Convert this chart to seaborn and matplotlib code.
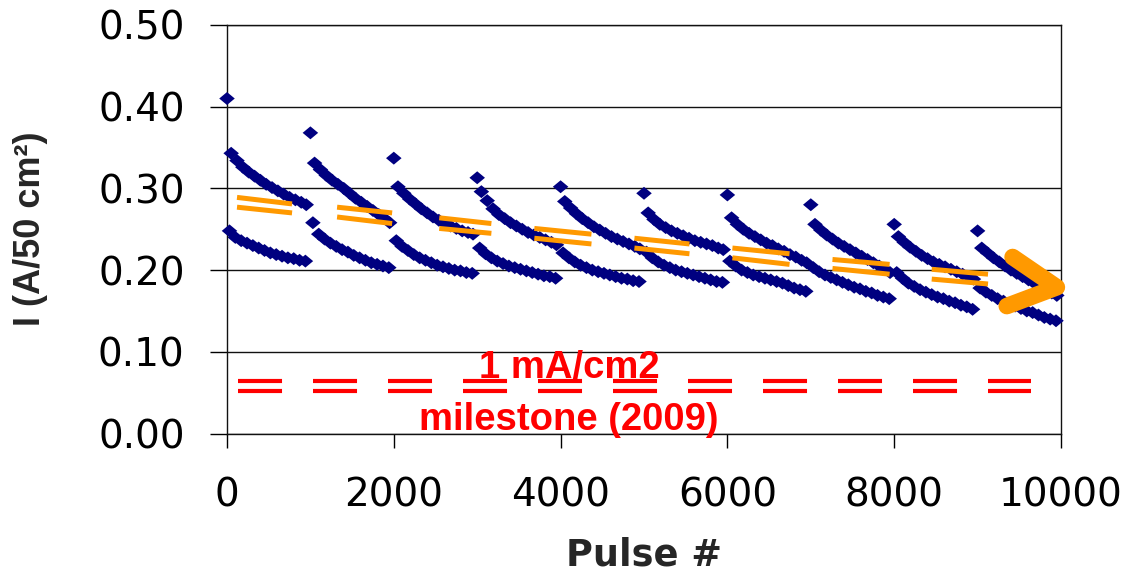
import numpy as np
import pandas as pd
import matplotlib
matplotlib.use("Agg")
import matplotlib.pyplot as plt
from matplotlib.markers import MarkerStyle
from matplotlib.path import Path
import seaborn as sns

# ---------------- data ----------------
segment_starts = [0, 1000, 2000, 3000, 4000, 5000, 6000, 7000, 8000, 9000]
segment_first_current = [0.410, 0.368, 0.337, 0.313, 0.302, 0.294, 0.292, 0.280, 0.256, 0.248]

upper_offsets = [50, 120, 190, 260, 330, 400, 470, 540, 610, 680, 750, 820, 890, 950]
lower_offsets = [30, 100, 170, 240, 310, 380, 450, 520, 590, 660, 730, 800, 870, 940]

upper_current = [
    [0.343, 0.334, 0.326, 0.320, 0.315, 0.310, 0.305, 0.301, 0.297, 0.293, 0.289, 0.286, 0.283, 0.280],
    [0.331, 0.323, 0.316, 0.310, 0.305, 0.300, 0.294, 0.288, 0.283, 0.278, 0.273, 0.268, 0.263, 0.258],
    [0.302, 0.294, 0.287, 0.281, 0.275, 0.270, 0.265, 0.261, 0.257, 0.254, 0.251, 0.248, 0.246, 0.244],
    [0.296, 0.285, 0.275, 0.268, 0.263, 0.258, 0.254, 0.250, 0.246, 0.243, 0.240, 0.237, 0.234, 0.231],
    [0.284, 0.276, 0.269, 0.263, 0.258, 0.253, 0.249, 0.245, 0.241, 0.238, 0.235, 0.232, 0.229, 0.226],
    [0.270, 0.262, 0.256, 0.252, 0.248, 0.245, 0.242, 0.239, 0.236, 0.234, 0.232, 0.230, 0.227, 0.225],
    [0.264, 0.256, 0.250, 0.245, 0.241, 0.237, 0.233, 0.230, 0.226, 0.223, 0.219, 0.216, 0.212, 0.209],
    [0.256, 0.249, 0.243, 0.238, 0.233, 0.229, 0.225, 0.221, 0.217, 0.213, 0.209, 0.205, 0.201, 0.197],
    [0.241, 0.234, 0.228, 0.223, 0.218, 0.214, 0.210, 0.207, 0.204, 0.201, 0.198, 0.195, 0.192, 0.189],
    [0.227, 0.221, 0.215, 0.210, 0.205, 0.200, 0.196, 0.192, 0.188, 0.184, 0.180, 0.176, 0.172, 0.169],
]
lower_current = [
    [0.248, 0.240, 0.236, 0.233, 0.230, 0.227, 0.224, 0.221, 0.219, 0.217, 0.215, 0.214, 0.212, 0.211],
    [0.258, 0.244, 0.238, 0.233, 0.229, 0.225, 0.222, 0.218, 0.215, 0.212, 0.209, 0.207, 0.205, 0.203],
    [0.236, 0.229, 0.224, 0.219, 0.215, 0.212, 0.209, 0.206, 0.204, 0.202, 0.200, 0.199, 0.197, 0.196],
    [0.227, 0.220, 0.215, 0.211, 0.208, 0.205, 0.203, 0.201, 0.199, 0.197, 0.195, 0.193, 0.192, 0.190],
    [0.221, 0.215, 0.210, 0.206, 0.203, 0.200, 0.198, 0.196, 0.194, 0.192, 0.190, 0.189, 0.187, 0.186],
    [0.222, 0.215, 0.210, 0.206, 0.203, 0.200, 0.198, 0.196, 0.194, 0.192, 0.190, 0.188, 0.186, 0.185],
    [0.211, 0.205, 0.200, 0.197, 0.194, 0.192, 0.190, 0.188, 0.186, 0.184, 0.181, 0.178, 0.176, 0.174],
    [0.203, 0.198, 0.194, 0.191, 0.188, 0.185, 0.182, 0.179, 0.177, 0.174, 0.172, 0.169, 0.167, 0.165],
    [0.197, 0.190, 0.184, 0.180, 0.176, 0.173, 0.170, 0.167, 0.165, 0.162, 0.160, 0.157, 0.155, 0.152],
    [0.178, 0.173, 0.169, 0.165, 0.162, 0.159, 0.156, 0.153, 0.150, 0.148, 0.145, 0.142, 0.140, 0.138],
]

# orange trend marks (pairs of parallel strokes)
trend_x_start = [120, 1320, 2545, 3685, 4885, 6060, 7260, 8450]
trend_x_end = [780, 1980, 3170, 4370, 5545, 6745, 7945, 9125]
trend_upper_start = [0.289, 0.277, 0.264, 0.251, 0.239, 0.227, 0.213, 0.201]
trend_upper_end = [0.281, 0.270, 0.257, 0.244, 0.232, 0.220, 0.207, 0.195]
trend_lower_start = [0.277, 0.265, 0.251, 0.239, 0.227, 0.215, 0.202, 0.189]
trend_lower_end = [0.270, 0.257, 0.245, 0.232, 0.220, 0.207, 0.195, 0.183]

# chevron arrow at the right end of the trend
arrow_x = [9420, 9950, 9350]
arrow_y = [0.216, 0.179, 0.156]

# milestone double dashed line
milestone_x = [126, 9640]
milestone_levels = [0.0638, 0.0516]
milestone_text_top = "1 mA/cm2"
milestone_text_bottom = "milestone (2009)"

x_ticks = [0, 2000, 4000, 6000, 8000, 10000]
y_ticks = [0.0, 0.1, 0.2, 0.3, 0.4, 0.5]

# ---------------- build frame ----------------
rows = []
for s, top in zip(segment_starts, segment_first_current):
    rows.append((s, top))
for s, vals in zip(segment_starts, upper_current):
    for o, v in zip(upper_offsets, vals):
        rows.append((s + o, v))
for s, vals in zip(segment_starts, lower_current):
    for o, v in zip(lower_offsets, vals):
        rows.append((s + o, v))
df = pd.DataFrame(rows, columns=["pulse", "current"])

# ---------------- plot ----------------
sns.set_style("white")
plt.rcParams["font.family"] = ["DejaVu Sans"]
plt.rcParams["lines.scale_dashes"] = False

fig = plt.figure(figsize=(11.33, 5.75), dpi=100)
W, H = 1133, 575
x0, x1, y0, y1 = 227, 1061, 433.5, 25
ax = fig.add_axes([x0 / W, 1 - y0 / H, (x1 - x0) / W, (y0 - y1) / H])

NAVY = "#000080"
ORANGE = "#FF9900"
RED = "#FF0000"

diamond = MarkerStyle(Path([(-1.2, 0), (0, 1), (1.2, 0), (0, -1), (-1.2, 0)],
                           [Path.MOVETO, Path.LINETO, Path.LINETO, Path.LINETO, Path.CLOSEPOLY]))
sns.scatterplot(data=df, x="pulse", y="current", ax=ax, marker=diamond,
                s=125, color=NAVY, linewidth=0, edgecolor="none", zorder=3,
                legend=False, clip_on=False)

for xs, xe, us, ue, ls, le in zip(trend_x_start, trend_x_end, trend_upper_start,
                                  trend_upper_end, trend_lower_start, trend_lower_end):
    ax.plot([xs, xe], [us, ue], color=ORANGE, lw=3.6, solid_capstyle="butt", zorder=4)
    ax.plot([xs, xe], [ls, le], color=ORANGE, lw=3.6, solid_capstyle="butt", zorder=4)

ax.plot(arrow_x, arrow_y, color=ORANGE, lw=12, solid_capstyle="round",
        solid_joinstyle="round", zorder=5, clip_on=False)

for lvl in milestone_levels:
    ax.plot(milestone_x, [lvl, lvl], color=RED, lw=3.0, linestyle=(0, (31.7, 22.3)),
            dash_capstyle="butt", zorder=4)

ax.text(4100, 0.0683, milestone_text_top, color=RED, fontsize=27.5, fontweight="bold",
        family="Liberation Sans", ha="center", va="baseline", zorder=6)
ax.text(4095, 0.0037, milestone_text_bottom, color=RED, fontsize=27.5, fontweight="bold",
        family="Liberation Sans", ha="center", va="baseline", zorder=6)

ax.set_xlim(0, 10000)
ax.set_ylim(0, 0.5)
ax.set_xticks(x_ticks)
ax.set_yticks(y_ticks)
ax.set_xticklabels([str(t) for t in x_ticks])
ax.set_yticklabels([f"{t:.2f}" for t in y_ticks])

ax.yaxis.grid(True, color="#111111", lw=1.0)
ax.xaxis.grid(False)
ax.set_axisbelow(True)
for sp in ax.spines.values():
    sp.set_color("#111111")
    sp.set_linewidth(1.0)
    sp.set_visible(True)

ax.tick_params(axis="y", direction="out", length=12, width=1, pad=18.5,
               labelsize=28, colors="black", left=True)
ax.tick_params(axis="x", direction="out", length=10, width=1, pad=21,
               labelsize=28, colors="black", bottom=True)

ax.set_xlabel("Pulse #", fontsize=26.5, fontweight="bold")
ax.xaxis.set_label_coords(0.5, -0.252)
ax.set_ylabel("I (A/50 cm²)", fontsize=26, fontweight="bold", family="Liberation Sans")
ax.yaxis.set_label_coords(-0.2146, 0.5)

fig.savefig("out.png", dpi=100, facecolor="white")
